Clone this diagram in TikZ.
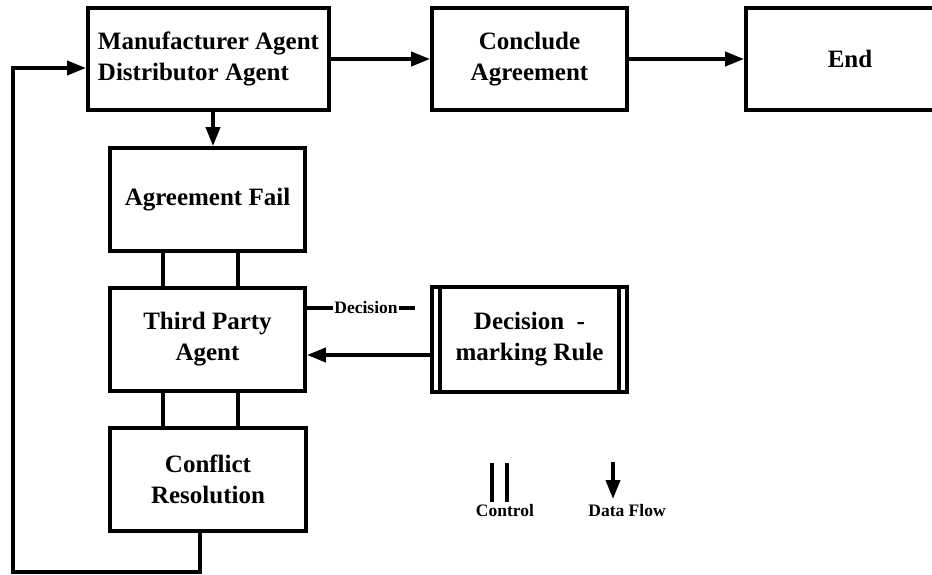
\documentclass[tikz,border=0pt]{standalone}
\usepackage{fontspec}
\setmainfont{Liberation Serif}
\usetikzlibrary{arrows.meta}
\begin{document}
\begin{tikzpicture}[x=1pt,y=-1pt,
  box/.style={draw, line width=3.8pt, inner sep=0pt, font=\bfseries\fontsize{25}{31}\selectfont, align=center},
  ln/.style={line width=3.8pt},
  arr/.style={line width=3.8pt, -{Triangle[length=19pt,width=14pt]}},
  small/.style={font=\bfseries\fontsize{17.5}{20}\selectfont, inner sep=1pt}]
\useasboundingbox (0,0) rectangle (932,575);
\node[box, minimum width=241pt, minimum height=102pt, align=left] (ma) at (208.5,59) {Manufacturer Agent\\Distributor Agent};
\node[box, minimum width=195pt, minimum height=102pt] (ca) at (529.5,59) {Conclude\\Agreement};
\node[box, minimum width=208pt, minimum height=102pt] (en) at (850,59) {End};
\node[box, minimum width=195pt, minimum height=103pt] (af) at (207.5,199.5) {Agreement Fail};
\node[box, minimum width=195pt, minimum height=103pt] (tp) at (207.5,339.5) {Third Party\\Agent};
\node[box, minimum width=196pt, minimum height=103pt] (cr) at (208,479.5) {Conflict\\Resolution};
\node[box, minimum width=195pt, minimum height=105pt] (dr) at (529.5,339.5) {Decision\ \ -\\marking Rule};
\draw[ln] ([xshift=10pt]dr.north west) -- ([xshift=10pt]dr.south west);
\draw[ln] ([xshift=-10pt]dr.north east) -- ([xshift=-10pt]dr.south east);
% main flow
\draw[arr] (ma.east) -- (ca.west);
\draw[arr] (ca.east) -- (en.west);
\draw[arr] ([xshift=4.5pt]ma.south) -- ([xshift=5.5pt]af.north);
% control links
\draw[ln] ([xshift=-44.5pt]af.south) -- ([xshift=-44.5pt]tp.north);
\draw[ln] ([xshift=30.5pt]af.south) -- ([xshift=30.5pt]tp.north);
\draw[ln] ([xshift=-44.5pt]tp.south) -- ([xshift=-45pt]cr.north);
\draw[ln] ([xshift=30.5pt]tp.south) -- ([xshift=30pt]cr.north);
% decision
\node[small] (dec) at (366,308) {Decision};
\coordinate (decend) at (415,308);
\draw[ln] (tp.east |- dec) -- (dec.west);
\draw[ln] (dec.east) -- (decend);
\draw[arr] (dr.west |- 0,355) -- (tp.east |- 0,355);
% loop back
\coordinate (lp1) at (200,572);
\coordinate (lp2) at (13,572);
\coordinate (lp3) at (13,68);
\draw[arr] (cr.south -| lp1) -- (lp1) -- (lp2) -- (lp3) -- (ma.west |- lp3);
% legend
\coordinate (c1a) at (492,463); \coordinate (c1b) at (492,502);
\coordinate (c2a) at (507,463); \coordinate (c2b) at (507,502);
\draw[ln] (c1a) -- (c1b);
\draw[ln] (c2a) -- (c2b);
\node[small, anchor=base] (lc) at (505,516) {Control};
\coordinate (dfa) at (613,462); \coordinate (dfb) at (613,499);
\draw[arr] (dfa) -- (dfb);
\node[small, anchor=base] (ld) at (627,516) {Data Flow};
\end{tikzpicture}
\end{document}
